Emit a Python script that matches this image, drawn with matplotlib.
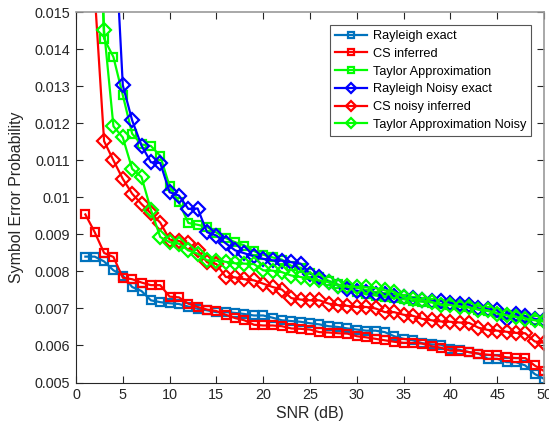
import matplotlib
matplotlib.use('Agg')
from matplotlib import pyplot as pl
import numpy as np

pl.rcParams['font.family'] = ['Liberation Sans', 'DejaVu Sans']

snr = list(range(1, 51))

rayleigh_exact = [0.0084, 0.0084, 0.00827, 0.00803, 0.00789, 0.00758, 0.00747, 0.00722, 0.00717, 0.00714,
                  0.00712, 0.00705, 0.00699, 0.00695, 0.0069, 0.0069, 0.00688, 0.00685, 0.00681, 0.00681,
                  0.00675, 0.00668, 0.00666, 0.00664, 0.0066, 0.00657, 0.00652, 0.0065, 0.00646, 0.00643,
                  0.0064, 0.0064, 0.00636, 0.00625, 0.00618, 0.00614, 0.00606, 0.00603, 0.00602, 0.00591,
                  0.00588, 0.00582, 0.00578, 0.00564, 0.00564, 0.00555, 0.00555, 0.00546, 0.00523, 0.0051]

cs_inferred = [0.00954, 0.00906, 0.0085, 0.00839, 0.00783, 0.00779, 0.0077, 0.00763, 0.00763, 0.00732,
               0.0073, 0.00713, 0.00704, 0.00697, 0.00693, 0.00683, 0.00674, 0.00668, 0.00656, 0.00654,
               0.00654, 0.00652, 0.00646, 0.00645, 0.00643, 0.00636, 0.00635, 0.00633, 0.00632, 0.00625,
               0.00622, 0.00618, 0.00614, 0.0061, 0.00607, 0.00607, 0.00605, 0.00598, 0.00594, 0.00586,
               0.00586, 0.00582, 0.00578, 0.00575, 0.00573, 0.00568, 0.00566, 0.00566, 0.00546, 0.00531]

taylor = [0.03, 0.021, 0.01429, 0.01379, 0.01276, 0.01172, 0.01143, 0.01139, 0.01112, 0.0103,
          0.00987, 0.00931, 0.00926, 0.0092, 0.00905, 0.0089, 0.00879, 0.0087, 0.00855, 0.00845,
          0.00838, 0.00832, 0.00815, 0.0081, 0.00795, 0.00786, 0.00775, 0.00765, 0.00755, 0.00745,
          0.00738, 0.00735, 0.0073, 0.00728, 0.00725, 0.0072, 0.00718, 0.00716, 0.00712, 0.0071,
          0.00706, 0.00703, 0.00697, 0.00693, 0.00688, 0.00683, 0.0068, 0.00676, 0.0067, 0.00665]

rayleigh_noisy = [0.03, 0.025, 0.021, 0.0179, 0.01303, 0.01208, 0.0114, 0.01095, 0.01093, 0.01014,
                  0.01005, 0.00969, 0.0097, 0.00906, 0.00897, 0.00876, 0.00857, 0.00849, 0.00841, 0.00834,
                  0.0083, 0.00829, 0.00825, 0.00821, 0.00794, 0.00785, 0.00771, 0.00762, 0.00752, 0.00748,
                  0.00745, 0.0074, 0.00738, 0.00733, 0.0073, 0.00728, 0.00722, 0.0072, 0.0072, 0.00715,
                  0.00712, 0.0071, 0.007, 0.00698, 0.00695, 0.00672, 0.00685, 0.0068, 0.00672, 0.00668]

cs_noisy = [0.02, 0.0155, 0.01152, 0.011, 0.0105, 0.0101, 0.00982, 0.00957, 0.00932, 0.00886,
            0.00882, 0.00876, 0.00857, 0.00825, 0.0082, 0.00785, 0.00784, 0.00779, 0.00776, 0.00767,
            0.00758, 0.00751, 0.00728, 0.00724, 0.00722, 0.00722, 0.00713, 0.00709, 0.00707, 0.00704,
            0.00704, 0.007, 0.0069, 0.0069, 0.00683, 0.0068, 0.00672, 0.00668, 0.00665, 0.00664,
            0.00662, 0.00661, 0.00648, 0.00642, 0.0064, 0.00637, 0.00634, 0.00633, 0.00611, 0.00607]

taylor_noisy = [0.03, 0.022, 0.01451, 0.01192, 0.01162, 0.01077, 0.01055, 0.00967, 0.00893, 0.00879,
                0.00875, 0.00857, 0.00848, 0.0083, 0.00829, 0.00826, 0.00822, 0.00821, 0.0082, 0.00803,
                0.00802, 0.00798, 0.00789, 0.00785, 0.0078, 0.00776, 0.00771, 0.00762, 0.0076, 0.00758,
                0.00757, 0.00755, 0.00749, 0.00745, 0.0073, 0.00726, 0.00722, 0.00718, 0.00709, 0.00709,
                0.00704, 0.00703, 0.00697, 0.00695, 0.00686, 0.00681, 0.00677, 0.00672, 0.00668, 0.00665]

series = [
    ('Rayleigh exact', rayleigh_exact, '#0072BD', 's'),
    ('CS inferred', cs_inferred, '#FF0000', 's'),
    ('Taylor Approximation', taylor, '#00FF00', 's'),
    ('Rayleigh Noisy exact', rayleigh_noisy, '#0000FF', 'D'),
    ('CS noisy inferred', cs_noisy, '#FF0000', 'D'),
    ('Taylor Approximation Noisy', taylor_noisy, '#00FF00', 'D'),
]

fig = pl.figure(figsize=(5.49, 4.30), dpi=100)
ax = fig.add_axes([76/549, 47.5/430, 468/549, 370.2/430])

for name, vals, col, mk in series:
    ms = 6 if mk == 's' else 7
    ax.plot(snr, vals, color=col, lw=1.6, marker=mk, markersize=ms,
            markerfacecolor='none', markeredgewidth=1.6, label=name)

ax.set_xlim(0, 50)
ax.set_ylim(0.005, 0.015)
ax.set_xticks(range(0, 51, 5))
yt = np.arange(0.005, 0.0151, 0.001)
ax.set_yticks(yt)
ax.set_yticklabels(['%g' % round(v, 3) for v in yt])
ax.tick_params(direction='in', top=True, right=True, length=5, width=0.8,
               labelsize=10.4, colors='#262626', pad=4)
for s in ['left', 'bottom']:
    ax.spines[s].set_color('#262626')
for s in ['top', 'right']:
    ax.spines[s].set_color('#9a9a9a')
    ax.spines[s].set_linewidth(1.2)
ax.set_xlabel('SNR (dB)', fontsize=11.4, color='#262626', labelpad=3)
ax.set_ylabel('Symbol Error Probability', fontsize=11.4, color='#262626', labelpad=8)

# legend handles use smaller markers, like matlab
leg = ax.legend(loc='upper right', bbox_to_anchor=(531/549, 405/430), bbox_transform=fig.transFigure,
                fontsize=9.2, fancybox=False, framealpha=1, edgecolor='#555555', markerscale=0.75,
                handlelength=2.5, handletextpad=0.4, labelspacing=0.45, borderpad=0.4, borderaxespad=0)
leg.get_frame().set_linewidth(0.8)

fig.savefig('out.png', dpi=100)
